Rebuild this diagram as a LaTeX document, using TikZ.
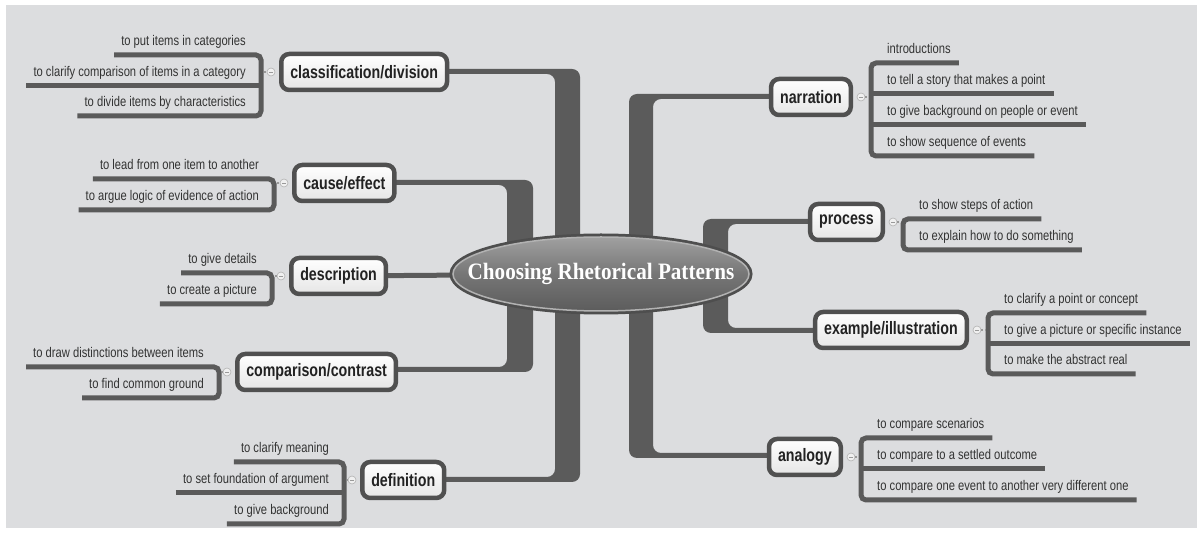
\documentclass[tikz,border=0pt]{standalone}
\usepackage{fontspec}
\newfontfamily\leaffont{Liberation Sans}[FakeStretch=0.80]
\newfontfamily\boxfont{Liberation Sans}[FakeStretch=0.79]
\newfontfamily\titlefont{Liberation Serif}[FakeStretch=0.9]
\usetikzlibrary{shapes.geometric}
\pgfdeclarelayer{bgzero}
\pgfdeclarelayer{bgone}
\pgfsetlayers{bgzero,bgone,main}
\definecolor{bgc}{HTML}{DCDDDF}
\definecolor{trunkc}{HTML}{5B5B5B}
\definecolor{boxedge}{HTML}{505050}
\definecolor{barc}{HTML}{5A5A5A}
\definecolor{txtc}{HTML}{222222}
\definecolor{leaftxt}{HTML}{333333}
\definecolor{rootedge}{HTML}{4E4E4E}
\definecolor{roottop}{HTML}{A0A0A0}
\definecolor{rootmid}{HTML}{767676}
\definecolor{rootbot}{HTML}{5C5C5C}
\begin{document}
\begin{tikzpicture}[x=1pt,y=-1pt,
  catbox/.style={draw=boxedge, line width=4.5pt, rounded corners=8pt, top color=white, bottom color=black!10,
    minimum height=36pt, inner xsep=9pt, inner ysep=0pt,
    font=\boxfont\bfseries\fontsize{18}{18}\selectfont, text=txtc},
  leafL/.style={anchor=south east, inner xsep=7pt, inner ysep=6.5pt, text height=10pt, text depth=3pt,
    font=\leaffont\fontsize{14}{14}\selectfont, text=leaftxt},
  leafR/.style={leafL, anchor=south west, inner xsep=8pt},
  leafbar/.style={draw=barc, line width=5pt},
  bracketbar/.style={leafbar, rounded corners=5pt},
  trunk/.style={fill=trunkc, rounded corners=8pt},
  thinconn/.style={draw=trunkc, line width=5pt},
  dotconn/.style={draw=gray!80, line width=1.2pt, dash pattern=on 2pt off 1.5pt},
  indic/.style={circle, minimum size=8pt, inner sep=0pt, fill=black!6, draw=gray!60, line width=0.6pt,
    path picture={\draw[gray!80, line width=0.9pt] ([xshift=-2pt]path picture bounding box.center) -- ([xshift=2pt]path picture bounding box.center);}},
  rootnode/.style={ellipse, minimum width=296pt, minimum height=74pt, inner xsep=-40pt, inner ysep=0pt,
    preaction={draw=rootedge, line width=7pt},
    top color=roottop, bottom color=rootbot, middle color=rootmid,
    draw=gray!60, line width=1.5pt,
    font=\titlefont\bfseries\fontsize{23.5}{23.5}\selectfont, text=white}
]
\useasboundingbox (0,0) rectangle (1203,534);
\begin{pgfonlayer}{bgzero}
  \fill[white] (0,0) rectangle (1203,534);
  \fill[bgc] (6,5) rectangle (1197,528);
\end{pgfonlayer}

% central node
\node[rootnode] (root) at (601,274) {Choosing Rhetorical Patterns};

% category boxes
\node[catbox, anchor=west] (cls) at (279,72) {classification/division};
\node[catbox, anchor=west] (cau) at (292,183) {cause/effect};
\node[catbox, anchor=west] (des) at (289,276) {description};
\node[catbox, anchor=west] (cmp) at (235,372) {comparison/contrast};
\node[catbox, anchor=west] (def) at (360,480) {definition};
\node[catbox, anchor=east] (nar) at (853,97) {narration};
\node[catbox, anchor=east] (pro) at (885,222) {process};
\node[catbox, anchor=east] (exa) at (969,330) {example/illustration};
\node[catbox, anchor=east] (ana) at (843,457) {analogy};

% trunks
\begin{pgfonlayer}{bgone}
  \fill[trunk] (cls.center |- 0,69) -- (580,69) -- (root.center -| 580,0) -- (root.center -| 555,0) -- (555,74) -- (cls.center |- 0,74) -- cycle;
  \fill[trunk] (cau.center |- 0,180) -- (533,180) -- (root.center -| 533,0) -- (root.center -| 507,0) -- (507,185) -- (cau.center |- 0,185) -- cycle;
  \draw[thinconn] (des.center) -- (root.center);
  \fill[trunk] (cmp.center |- 0,367) -- (507,367) -- (root.center -| 507,0) -- (root.center -| 533,0) -- (533,372) -- (cmp.center |- 0,372) -- cycle;
  \fill[trunk] (def.center |- 0,477) -- (555,477) -- (root.center -| 555,0) -- (root.center -| 580,0) -- (580,482) -- (def.center |- 0,482) -- cycle;
  \fill[trunk] (nar.center |- 0,94) -- (629,94) -- (root.center -| 629,0) -- (root.center -| 653,0) -- (653,99) -- (nar.center |- 0,99) -- cycle;
  \fill[trunk] (pro.center |- 0,219) -- (703,219) -- (root.center -| 703,0) -- (root.center -| 728,0) -- (728,224) -- (pro.center |- 0,224) -- cycle;
  \fill[trunk] (exa.center |- 0,328) -- (728,328) -- (root.center -| 728,0) -- (root.center -| 703,0) -- (703,333) -- (exa.center |- 0,333) -- cycle;
  \fill[trunk] (ana.center |- 0,453) -- (653,453) -- (root.center -| 653,0) -- (root.center -| 629,0) -- (629,458) -- (ana.center |- 0,458) -- cycle;
\end{pgfonlayer}

% ---- classification/division
\node[leafL] (c1) at (253,55) {to put items in categories};
\node[leafL] (c2) at (253,86) {to clarify comparison of items in a category};
\node[leafL] (c3) at (253,116) {to divide items by characteristics};
\draw[bracketbar] (c1.south west) -- (261,55) -- (261,116) -- (c3.south west);
\draw[leafbar] (c2.south west) -- (261,86);
\node[indic] (i1) at ([xshift=-8pt]cls.west) {};
\draw[dotconn] (263.5,72) -- (i1);

% ---- cause/effect
\node[leafL] (e1) at (266,179) {to lead from one item to another};
\node[leafL] (e2) at (266,210) {to argue logic of evidence of action};
\draw[bracketbar] (e1.south west) -- (274,179) -- (274,210) -- (e2.south west);
\node[indic] (i2) at ([xshift=-8pt]cau.west) {};
\draw[dotconn] (276.5,183) -- (i2);

% ---- description
\node[leafL] (d1) at (264,273) {to give details};
\node[leafL] (d2) at (264,304) {to create a picture};
\draw[bracketbar] (d1.south west) -- (272,273) -- (272,304) -- (d2.south west);
\node[indic] (i3) at ([xshift=-8pt]des.west) {};
\draw[dotconn] (274.5,276) -- (i3);

% ---- comparison/contrast
\node[leafL] (m1) at (211,367) {to draw distinctions between items};
\node[leafL] (m2) at (211,398) {to find common ground};
\draw[bracketbar] (m1.south west) -- (219,367) -- (219,398) -- (m2.south west);
\node[indic] (i4) at ([xshift=-8pt]cmp.west) {};
\draw[dotconn] (221.5,372) -- (i4);

% ---- definition
\node[leafL] (f1) at (336,462) {to clarify meaning};
\node[leafL] (f2) at (336,493) {to set foundation of argument};
\node[leafL] (f3) at (336,524) {to give background};
\draw[bracketbar] (f1.south west) -- (344,462) -- (344,524) -- (f3.south west);
\draw[leafbar] (f2.south west) -- (344,493);
\node[indic] (i5) at ([xshift=-8pt]def.west) {};
\draw[dotconn] (346.5,480) -- (i5);

% ---- narration
\node[leafR] (n1) at (879,63) {introductions};
\node[leafR] (n2) at (879,94) {to tell a story that makes a point};
\node[leafR] (n3) at (879,125) {to give background on people or event};
\node[leafR] (n4) at (879,156) {to show sequence of events};
\draw[bracketbar] (n1.south east) -- (871,63) -- (871,156) -- (n4.south east);
\draw[leafbar] (871,94) -- (n2.south east);
\draw[leafbar] (871,125) -- (n3.south east);
\node[indic] (i6) at ([xshift=8pt]nar.east) {};
\draw[dotconn] (i6) -- (868.5,97);

% ---- process
\node[leafR] (p1) at (911,219) {to show steps of action};
\node[leafR] (p2) at (911,250) {to explain how to do something};
\draw[bracketbar] (p1.south east) -- (903,219) -- (903,250) -- (p2.south east);
\node[indic] (i7) at ([xshift=8pt]pro.east) {};
\draw[dotconn] (i7) -- (900.5,222);

% ---- example/illustration
\node[leafR] (x1) at (996,313) {to clarify a point or concept};
\node[leafR] (x2) at (996,344) {to give a picture or specific instance};
\node[leafR] (x3) at (996,374) {to make the abstract real};
\draw[bracketbar] (x1.south east) -- (988,313) -- (988,374) -- (x3.south east);
\draw[leafbar] (988,344) -- (x2.south east);
\node[indic] (i8) at ([xshift=8pt]exa.east) {};
\draw[dotconn] (i8) -- (985.5,330);

% ---- analogy
\node[leafR] (a1) at (869,438) {to compare scenarios};
\node[leafR] (a2) at (869,469) {to compare to a settled outcome};
\node[leafR] (a3) at (869,500) {to compare one event to another very different one};
\draw[bracketbar] (a1.south east) -- (861,438) -- (861,500) -- (a3.south east);
\draw[leafbar] (861,469) -- (a2.south east);
\node[indic] (i9) at ([xshift=8pt]ana.east) {};
\draw[dotconn] (i9) -- (858.5,457);
\end{tikzpicture}
\end{document}
